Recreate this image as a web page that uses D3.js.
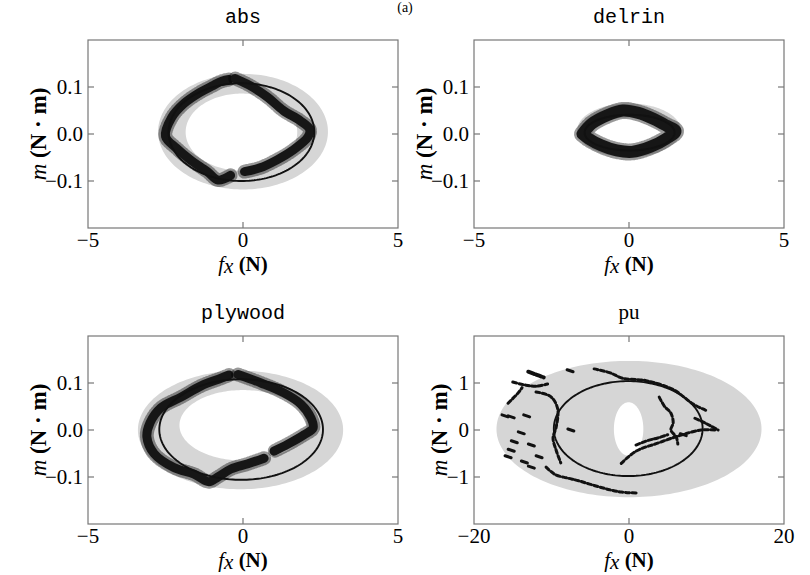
<!DOCTYPE html>
<html>
<head>
<meta charset="utf-8">
<script src="https://cdn.jsdelivr.net/npm/d3@7"></script>
<style>
  body { margin: 0; background: #fff; }
  svg { display: block; }
</style>
</head>
<body>
<div id="chart"></div>
<script>
const materials = ['abs', 'delrin', 'plywood', 'pu'];
const xDomains = [[-5, 5], [-5, 5], [-5, 5], [-20, 20]];
const yDomains = [[-0.2, 0.2], [-0.2, 0.2], [-0.2, 0.2], [-2, 2]];
const xTicks = [[-5, 0, 5], [-5, 0, 5], [-5, 0, 5], [-20, 0, 20]];
const yTicks = [[-0.1, 0, 0.1], [-0.1, 0, 0.1], [-0.1, 0, 0.1], [-1, 0, 1]];

// ellipses as [cx, cy, rx, ry] in data units
const bandOuter = [[0, 0.005, 2.74, 0.123], [0, 0.008, 1.67, 0.057], [-0.08, 0, 3.31, 0.126], [0, 0.02, 17.1, 1.45]];
const bandInner = [[-0.05, 0.004, 1.8, 0.082], [0, 0.005, 1.15, 0.03], [0, 0.01, 2.05, 0.075], [-0.05, 0.02, 1.9, 0.57]];
const limitEllipse = [[-0.05, 0.004, 2.35, 0.104], [0.02, 0.003, 1.45, 0.038], [-0.06, 0.001, 2.64, 0.107], [-0.1, 0.03, 9.6, 1.01]];

const absTrace1 = [[-0.4, -0.088], [-0.8, -0.098], [-1.15, -0.08], [-1.7, -0.055], [-2.15, -0.03], [-2.5, -0.005],
  [-2.3, 0.035], [-1.9, 0.065], [-1.4, 0.088], [-1.0, 0.102], [-0.7, 0.112], [-0.45, 0.116]];
const absTrace2 = [[-0.25, 0.118], [0.2, 0.104], [0.8, 0.078], [1.3, 0.05], [1.85, 0.028], [2.15, 0.01],
  [2.1, -0.006], [1.6, -0.035], [1.1, -0.055], [0.55, -0.072], [0.05, -0.08]];
const delrinTrace = [[-1.5, 0.0], [-1.2, 0.022], [-0.7, 0.04], [-0.2, 0.05], [0.3, 0.045], [0.8, 0.032], [1.2, 0.018],
  [1.5, 0.006], [1.2, -0.01], [0.7, -0.027], [0.1, -0.038], [-0.4, -0.035], [-0.9, -0.024], [-1.3, -0.01], [-1.5, 0.0]];
const plyTrace1 = [[0.68, -0.06], [0.16, -0.072], [-0.39, -0.083], [-0.81, -0.1], [-1.1, -0.11], [-1.58, -0.094],
  [-2.23, -0.08], [-2.87, -0.05], [-3.1, -0.015], [-3.0, 0.015], [-2.65, 0.047], [-2.0, 0.07], [-1.35, 0.094],
  [-0.71, 0.11], [-0.45, 0.117]];
const plyTrace2 = [[-0.16, 0.118], [0.58, 0.1], [1.32, 0.079], [1.87, 0.055], [2.19, 0.026], [2.26, 0.004],
  [1.97, -0.01], [1.45, -0.03], [1.0, -0.045]];
const puTrace1 = [[-12.0, 0.81], [-10.1, 0.71], [-9.2, 0.45], [-9.4, 0.06], [-9.8, -0.17], [-9.4, -0.43], [-8.8, -0.7]];
const puTrace2 = [[-10.7, -0.79], [-9.5, -0.95], [-8.0, -1.02], [-6.5, -1.08], [-4.5, -1.18], [-2.5, -1.27], [-1.0, -1.32], [1.0, -1.34]];
const puTrace3 = [[-4.5, 1.3], [-2.5, 1.22], [-0.8, 1.1], [2.2, 1.05], [5.7, 0.86], [8.3, 0.55], [9.9, 0.42]];
const puTrace4 = [[-1.0, -0.71], [0.9, -0.45], [3.7, -0.28], [6.5, -0.12], [9.3, 0.0], [11.2, 0.0]];
const puTrace5 = [[0.9, -0.32], [2.5, -0.22], [3.7, -0.17], [5.0, -0.1]];
const puTrace6 = [[3.9, 0.7], [4.6, 0.5], [5.4, 0.36], [5.7, 0.15], [5.4, 0.0], [6.1, -0.15], [6.3, -0.3]];
const puTrace7 = [[-13.0, 1.24], [-12.0, 1.18], [-11.0, 1.12]];
const puTrace8 = [[-15.0, 1.02], [-13.5, 0.96], [-12.0, 0.93], [-10.5, 0.98]];
const puTrace9 = [[-15.6, 0.57], [-14.3, 0.79], [-13.8, 0.9]];
const puTrace10 = [[8.5, 0.25], [9.8, 0.15], [11.5, 0.0]];
const puDashes = [[-15.2, 0.28], [-13.9, -0.06], [-14.8, -0.25], [-12.6, -0.32], [-15.2, -0.43], [-15.6, -0.57],
  [-13.5, -0.68], [-11.6, -0.57], [-12.6, -0.79], [-7.5, 0.0], [-7.6, 1.26], [-16.0, 0.3], [-13.2, 0.3], [7.0, -0.1]];

const denseTraces = [[absTrace1, absTrace2], [delrinTrace], [plyTrace1, plyTrace2], []];
const sparseTraces = [[], [], [], [puTrace1, puTrace2, puTrace3, puTrace4, puTrace5, puTrace6, puTrace8, puTrace9, puTrace10]];
const blobTraces = [[], [], [], [puTrace7]];
const traceWidths = [9, 12, 9, 3];

const panelPos = [[88, 40], [474, 40], [88, 336], [474, 336]];
const pw = 310, ph = 188;
const serif = '"Liberation Serif", "DejaVu Serif", serif';

const svg = d3.select('#chart').append('svg')
    .attr('width', 810)
    .attr('height', 575);

svg.append('text')
    .attr('x', 405)
    .attr('y', 12)
    .attr('text-anchor', 'middle')
    .style('font-family', serif)
    .style('font-size', '14px')
    .text('(a)');

function ellipsePath(x, y, e) {
    const angles = d3.range(0, 2 * Math.PI + 0.001, Math.PI / 90);
    return d3.line()(angles.map(a => [x(e[0] + e[2] * Math.cos(a)), y(e[1] + e[3] * Math.sin(a))])) + 'Z';
}

materials.forEach((name, i) => {
    const g = svg.append('g')
        .attr('transform', `translate(${panelPos[i][0]}, ${panelPos[i][1]})`);

    const x = d3.scaleLinear().domain(xDomains[i]).range([0, pw]);
    const y = d3.scaleLinear().domain(yDomains[i]).range([ph, 0]);

    g.append('clipPath').attr('id', 'clip' + i)
        .append('rect').attr('width', pw).attr('height', ph);
    const plot = g.append('g').attr('clip-path', `url(#clip${i})`);

    // grey band between outer and inner ellipse
    plot.append('path')
        .attr('d', ellipsePath(x, y, bandOuter[i]) + ellipsePath(x, y, bandInner[i]))
        .attr('fill', '#d6d6d6')
        .attr('fill-rule', 'evenodd');

    const line = d3.line()
        .x(d => x(d[0]))
        .y(d => y(d[1]))
        .curve(d3.curveCatmullRom.alpha(0.5));

    denseTraces[i].forEach(t => {
        plot.append('path')
            .attr('d', line(t))
            .attr('fill', 'none')
            .attr('stroke', '#000')
            .attr('stroke-width', traceWidths[i] + 5)
            .attr('stroke-linecap', 'round')
            .attr('stroke-linejoin', 'round')
            .attr('stroke-dasharray', '1.2 1.8')
            .style('opacity', 0.4);
        plot.append('path')
            .attr('d', line(t))
            .attr('fill', 'none')
            .attr('stroke', '#161616')
            .attr('stroke-width', traceWidths[i])
            .attr('stroke-linecap', 'round')
            .attr('stroke-linejoin', 'round');
    });

    sparseTraces[i].forEach(t => {
        plot.append('path')
            .attr('d', line(t))
            .attr('fill', 'none')
            .attr('stroke', '#111')
            .attr('stroke-width', traceWidths[i])
            .attr('stroke-dasharray', '4 2.5')
            .attr('stroke-linecap', 'round');
    });

    blobTraces[i].forEach(t => {
        plot.append('path')
            .attr('d', line(t))
            .attr('fill', 'none')
            .attr('stroke', '#111')
            .attr('stroke-width', 4)
            .attr('stroke-dasharray', '6 2')
            .attr('stroke-linecap', 'round');
    });

    if (name === 'pu') {
        plot.selectAll('.dash')
            .data(puDashes)
            .enter()
            .append('line')
            .attr('class', 'dash')
            .attr('x1', d => x(d[0]) - 3)
            .attr('x2', d => x(d[0]) + 3)
            .attr('y1', d => y(d[1]) - 1)
            .attr('y2', d => y(d[1]) + 1)
            .attr('stroke', '#111')
            .attr('stroke-width', 3)
            .attr('stroke-linecap', 'round');
    }

    // fitted limit surface
    plot.append('path')
        .attr('d', ellipsePath(x, y, limitEllipse[i]))
        .attr('fill', 'none')
        .attr('stroke', '#111')
        .attr('stroke-width', 1.9);

    // frame
    g.append('rect')
        .attr('width', pw)
        .attr('height', ph)
        .attr('fill', 'none')
        .attr('stroke', '#777')
        .attr('stroke-width', 1.2);

    // inward ticks on all four sides
    const tickLen = 6;
    const fmt = i === 3 ? d3.format('d') : d3.format('.1f');
    const minus = s => s.replace('-', '\u2212');
    xTicks[i].forEach(v => {
        if (v !== xDomains[i][0] && v !== xDomains[i][1]) {
            g.append('line').attr('x1', x(v)).attr('x2', x(v)).attr('y1', 0).attr('y2', tickLen)
                .attr('stroke', '#777').attr('stroke-width', 1.2);
            g.append('line').attr('x1', x(v)).attr('x2', x(v)).attr('y1', ph).attr('y2', ph - tickLen)
                .attr('stroke', '#777').attr('stroke-width', 1.2);
        }
        g.append('text')
            .attr('x', x(v))
            .attr('y', ph + 19)
            .attr('text-anchor', 'middle')
            .style('font-family', serif)
            .style('font-size', '21px')
            .text(minus(d3.format('d')(v)));
    });
    yTicks[i].forEach(v => {
        g.append('line').attr('x1', 0).attr('x2', tickLen).attr('y1', y(v)).attr('y2', y(v))
            .attr('stroke', '#777').attr('stroke-width', 1.2);
        g.append('line').attr('x1', pw).attr('x2', pw - tickLen).attr('y1', y(v)).attr('y2', y(v))
            .attr('stroke', '#777').attr('stroke-width', 1.2);
        g.append('text')
            .attr('x', -5)
            .attr('y', y(v) + 7)
            .attr('text-anchor', 'end')
            .style('font-family', serif)
            .style('font-size', '21px')
            .text(minus(fmt(v)));
    });

    // panel title
    g.append('text')
        .attr('x', pw / 2)
        .attr('y', -17)
        .attr('text-anchor', 'middle')
        .style('font-family', name === 'pu' ? serif : '"Liberation Mono", "DejaVu Sans Mono", monospace')
        .style('font-size', name === 'pu' ? '21px' : '20px')
        .text(name);

    // x label
    const xl = g.append('text')
        .attr('x', pw / 2)
        .attr('y', ph + 43)
        .attr('text-anchor', 'middle')
        .style('font-family', serif)
        .style('font-size', '21px');
    xl.append('tspan').style('font-style', 'italic').text('f');
    xl.append('tspan').style('font-style', 'italic').attr('dy', 2).text('x');
    xl.append('tspan').style('font-weight', 'bold').attr('dy', -2).text(' (N)');

    // y label
    const yl = g.append('text')
        .attr('transform', `translate(${i === 3 ? -27 : -42}, ${ph / 2}) rotate(-90)`)
        .attr('text-anchor', 'middle')
        .style('font-family', serif)
        .style('font-size', '23px');
    yl.append('tspan').style('font-style', 'italic').text('m');
    yl.append('tspan').style('font-weight', 'bold').text(' (N \u00b7 m)');
});
</script>
</body>
</html>
